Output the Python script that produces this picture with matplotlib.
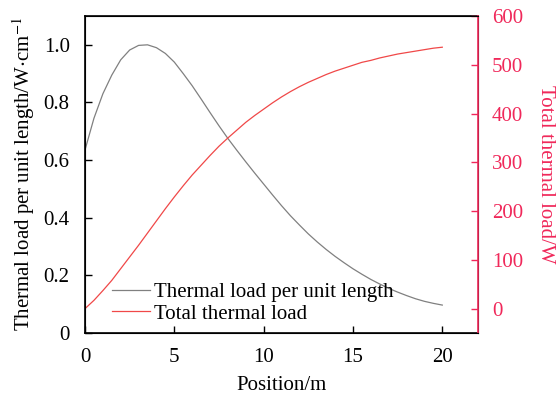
import matplotlib
matplotlib.use('Agg')
import matplotlib.pyplot as plt

# данные
position = [0, 0.5, 1, 1.5, 2, 2.5, 3, 3.5, 4, 4.5, 5, 5.5, 6, 6.5, 7, 7.5, 8, 8.5, 9, 9.5,
            10, 10.5, 11, 11.5, 12, 12.5, 13, 13.5, 14, 14.5, 15, 15.5, 16, 16.5, 17, 17.5,
            18, 18.5, 19, 19.5, 20]
load_per_length = [0.635, 0.745, 0.830, 0.895, 0.948, 0.982, 0.998, 1.000, 0.990, 0.970,
                   0.940, 0.900, 0.858, 0.812, 0.765, 0.719, 0.675, 0.634, 0.594, 0.555,
                   0.517, 0.479, 0.442, 0.407, 0.375, 0.344, 0.316, 0.290, 0.266, 0.244,
                   0.223, 0.204, 0.186, 0.170, 0.155, 0.142, 0.130, 0.119, 0.110, 0.103, 0.097]
total_load = [0, 17, 37, 58, 82, 106, 130, 155, 180, 205, 229, 252, 274, 294, 314, 333, 350,
              366, 382, 396, 409, 422, 434, 445, 455, 464, 472, 480, 487, 493, 499, 505, 509,
              514, 518, 522, 525, 528, 531, 534, 536]

left_ticks = [0, 0.2, 0.4, 0.6, 0.8, 1.0]
left_tick_labels = ['0', '0.2', '0.4', '0.6', '0.8', '1.0']
right_ticks = [0, 100, 200, 300, 400, 500, 600]
x_ticks = [0, 5, 10, 15, 20]

plt.rcParams['font.family'] = ['Liberation Serif', 'DejaVu Serif']
plt.rcParams['mathtext.fontset'] = 'stix'
plt.rcParams['font.size'] = 15

accent = '#f0285a'

fig = plt.figure(figsize=(5.57, 3.96), dpi=100)
ax = fig.add_axes([0.1526, 0.159, 0.7056, 0.8006])
ax2 = ax.twinx()

l1, = ax.plot(position, load_per_length, color='#808080', lw=0.9)
l2, = ax2.plot(position, total_load, color='#f04848', lw=0.9)

ax.set_xlim(0, 22)
ax.set_ylim(0, 1.1)
ax2.set_ylim(-50, 600)

ax.set_xticks(x_ticks)
ax.set_yticks(left_ticks)
ax.set_yticklabels(left_tick_labels)
ax2.set_yticks(right_ticks)

ax.tick_params(direction='in', length=5, width=1)
ax.tick_params(axis='x', pad=11)
ax.tick_params(axis='y', pad=11)
ax2.tick_params(axis='y', direction='in', length=5, width=1, colors=accent, pad=10)

ax2.spines['right'].set_color(accent)
ax2.spines['right'].set_linewidth(1.2)
for s in ['left', 'bottom', 'top']:
    ax.spines[s].set_linewidth(1.2)

ax.set_xlabel('Position/m', labelpad=6)
ax.set_ylabel('Thermal load per unit length/W$\\cdot$cm$^{-1}$', labelpad=5)
ax2.set_ylabel('Total thermal load/W', color=accent, rotation=270, labelpad=23)

ax.legend([l1, l2], ['Thermal load per unit length', 'Total thermal load'],
          loc='lower left', bbox_to_anchor=(0.068, 0.03), frameon=False,
          borderpad=0, borderaxespad=0, handlelength=1.85, handletextpad=0.2,
          labelspacing=0.1)

fig.savefig('out.png', dpi=100)
